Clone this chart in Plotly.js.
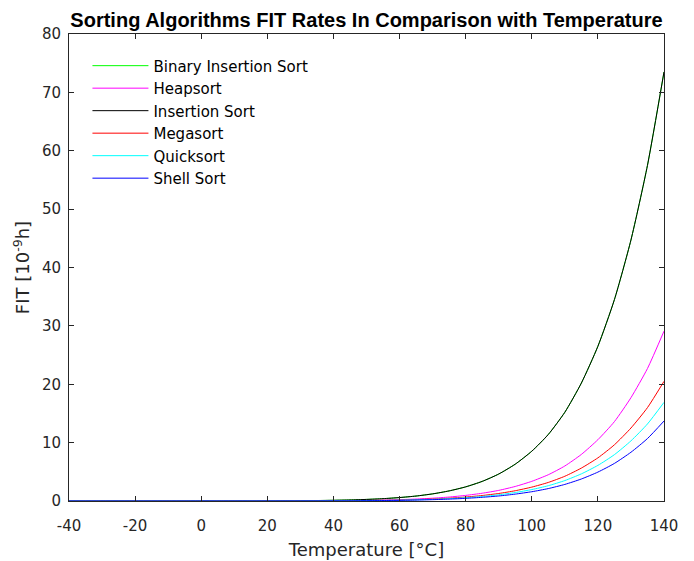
<!DOCTYPE html>
<html>
<head>
<meta charset="utf-8">
<script src="https://cdn.plot.ly/plotly-3.0.1.min.js"></script>
<style>
  html, body { margin: 0; padding: 0; background: #ffffff; }
  #chart { width: 694px; height: 561px; }
</style>
</head>
<body>
<div id="chart"></div>
<script>
// Temperature grid in °C
const temperature = [-40, -35, -30, -25, -20, -15, -10, -5, 0, 5, 10, 15, 20, 25, 30, 35, 40,
  45, 50, 55, 60, 65, 70, 75, 80, 85, 90, 95, 100, 105, 110, 115, 120, 125, 130, 135, 140];

// FIT rates [10^-9 / h] per algorithm
const binaryInsertionSort = [0, 0, 0, 0, 0, 0, 0, 0, 0.003, 0.004, 0.007, 0.012, 0.02, 0.03, 0.05, 0.08, 0.12,
  0.18, 0.27, 0.40, 0.59, 0.85, 1.22, 1.73, 2.42, 3.36, 4.62, 6.31, 8.53, 11.4, 15.2, 20.2, 26.5, 34.5, 44.7, 57.5, 73.5];
const heapsort = [0, 0, 0, 0, 0, 0, 0, 0, 0.001, 0.002, 0.003, 0.005, 0.008, 0.012, 0.02, 0.03, 0.05,
  0.07, 0.11, 0.16, 0.23, 0.34, 0.48, 0.68, 0.96, 1.33, 1.82, 2.49, 3.37, 4.50, 6.00, 7.98, 10.5, 13.6, 17.7, 22.7, 29.1];
const insertionSort = [0, 0, 0, 0, 0, 0, 0, 0, 0.003, 0.004, 0.007, 0.012, 0.02, 0.03, 0.05, 0.08, 0.12,
  0.18, 0.27, 0.40, 0.59, 0.85, 1.22, 1.73, 2.42, 3.36, 4.62, 6.31, 8.53, 11.4, 15.2, 20.2, 26.5, 34.5, 44.7, 57.5, 73.5];
const megasort = [0, 0, 0, 0, 0, 0, 0, 0, 0.001, 0.001, 0.002, 0.003, 0.006, 0.009, 0.014, 0.02, 0.03,
  0.05, 0.08, 0.11, 0.16, 0.24, 0.34, 0.48, 0.68, 0.94, 1.29, 1.76, 2.38, 3.18, 4.24, 5.64, 7.39, 9.63, 12.5, 16.0, 20.5];
const quicksort = [0, 0, 0, 0, 0, 0, 0, 0, 0.001, 0.001, 0.002, 0.003, 0.005, 0.007, 0.011, 0.018, 0.03,
  0.04, 0.06, 0.09, 0.14, 0.20, 0.28, 0.40, 0.56, 0.77, 1.06, 1.45, 1.96, 2.62, 3.50, 4.65, 6.10, 7.94, 10.3, 13.2, 16.9];
const shellSort = [0, 0, 0, 0, 0, 0, 0, 0, 0, 0.001, 0.001, 0.002, 0.004, 0.006, 0.009, 0.015, 0.02,
  0.03, 0.05, 0.08, 0.11, 0.16, 0.23, 0.32, 0.45, 0.63, 0.86, 1.18, 1.59, 2.13, 2.84, 3.77, 4.95, 6.44, 8.35, 10.7, 13.7];

const seriesNames = ['Binary Insertion Sort', 'Heapsort', 'Insertion Sort', 'Megasort', 'Quicksort', 'Shell Sort'];
const seriesValues = [binaryInsertionSort, heapsort, insertionSort, megasort, quicksort, shellSort];
const seriesColors = ['#00ff00', '#ff00ff', '#000000', '#ff0000', '#00ffff', '#0000ff'];

const xTicks = [-40, -20, 0, 20, 40, 60, 80, 100, 120, 140];
const yTicks = [0, 10, 20, 30, 40, 50, 60, 70, 80];

const traces = seriesNames.map((name, i) => ({
  type: 'scatter',
  mode: 'lines',
  name: name,
  x: temperature,
  y: seriesValues[i],
  line: { color: seriesColors[i], width: 1, shape: 'spline', smoothing: 0.6 },
  hoverinfo: 'skip'
}));

const axisColor = '#262626';
const textFont = '"DejaVu Sans", Verdana, sans-serif';
const titleFont = '"Liberation Sans", Arial, Helvetica, sans-serif';

const commonAxis = {
  showgrid: false,
  zeroline: false,
  showline: true,
  linecolor: axisColor,
  linewidth: 1,
  mirror: 'ticks',
  ticks: 'inside',
  ticklen: 5,
  tickwidth: 1,
  tickcolor: axisColor,
  tickfont: { family: textFont, size: 15, color: axisColor }
};

const layout = {
  width: 694,
  height: 561,
  paper_bgcolor: '#ffffff',
  plot_bgcolor: '#ffffff',
  margin: { l: 69, r: 30, t: 34, b: 60 },
  font: { family: textFont, color: axisColor },
  title: {
    text: '<b>Sorting Algorithms FIT Rates In Comparison with Temperature</b>',
    font: { family: titleFont, size: 20, color: '#000000' },
    x: 0.5,
    xref: 'paper',
    xanchor: 'center',
    y: 1,
    yref: 'paper',
    yanchor: 'bottom',
    pad: { b: 7 }
  },
  xaxis: Object.assign({}, commonAxis, {
    range: [-40, 140],
    tickvals: xTicks,
    ticktext: xTicks.map(String),
    ticklabelstandoff: 11,
    title: { text: 'Temperature [°C]', font: { family: textFont, size: 18, color: axisColor }, standoff: 9 }
  }),
  yaxis: Object.assign({}, commonAxis, {
    range: [0, 80],
    tickvals: yTicks,
    ticktext: yTicks.map(String),
    ticklabelstandoff: 4,
    title: { text: 'FIT [10<sup>-9</sup>h]', font: { family: textFont, size: 18, color: axisColor }, standoff: 7 }
  }),
  showlegend: true,
  legend: {
    x: 0.031,
    y: 0.967,
    xanchor: 'left',
    yanchor: 'top',
    bgcolor: 'rgba(255,255,255,0)',
    borderwidth: 0,
    font: { family: textFont, size: 15, color: '#000000' },
    itemwidth: 56,
    traceorder: 'normal'
  }
};

Plotly.newPlot('chart', traces, layout, { displayModeBar: false, staticPlot: true });
</script>
</body>
</html>
